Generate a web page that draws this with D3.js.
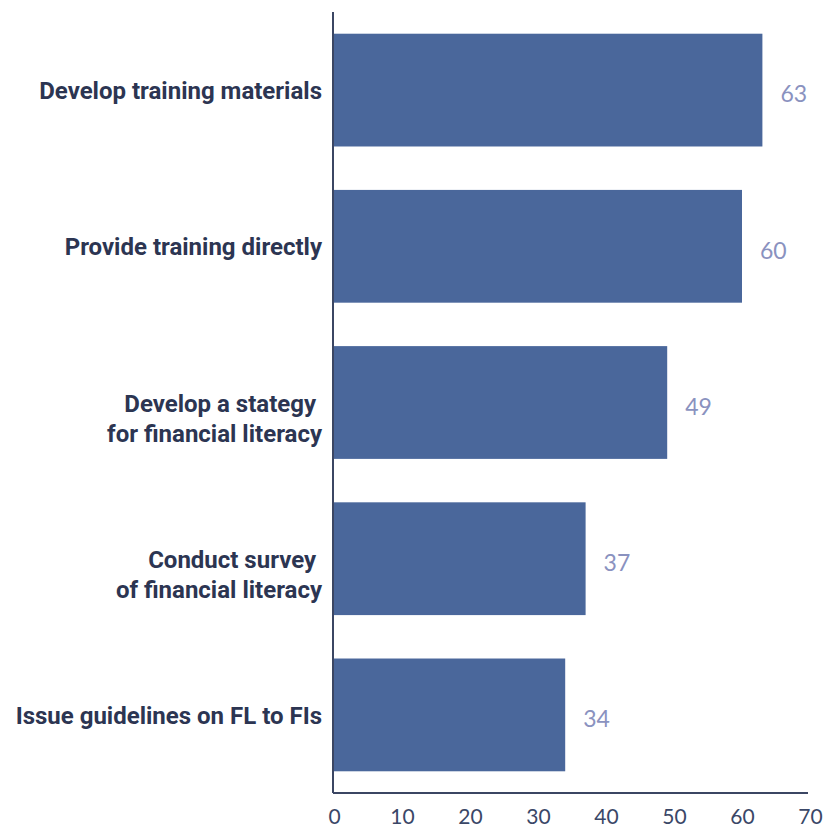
<!DOCTYPE html>
<html>
<head>
<meta charset="utf-8">
<script src="https://cdn.jsdelivr.net/npm/d3@7/dist/d3.min.js"></script>
<style>
  html, body { margin: 0; padding: 0; background: #fff; }
  svg { display: block; }
  .cat { white-space: pre; }
</style>
</head>
<body>
<svg id="chart" width="825" height="831"></svg>
<script>
// Activities, each label split into its printed lines
const categories = [
  ["Develop training materials"],
  ["Provide training directly"],
  ["Develop a stategy ", "for financial literacy"],
  ["Conduct survey ", "of financial literacy"],
  ["Issue guidelines on FL to FIs"]
];
const values = [63, 60, 49, 37, 34];
const xTicks = [0, 10, 20, 30, 40, 50, 60, 70];

const svg = d3.select("#chart");
const plotLeft = 334, plotRight = 810, plotTop = 12, plotBottom = 793;

const x = d3.scaleLinear().domain([0, 70]).range([plotLeft, plotRight]);
const y = d3.scaleBand()
  .domain(d3.range(categories.length))
  .range([plotTop, plotBottom])
  .paddingInner(0.278)
  .paddingOuter(0.139);

const barColor = "#4a679b";
const axisColor = "#3b4663";

// bars
svg.append("g").selectAll("rect")
  .data(values)
  .join("rect")
  .attr("x", x(0))
  .attr("y", (d, i) => y(i))
  .attr("width", d => x(d) - x(0))
  .attr("height", y.bandwidth())
  .attr("fill", barColor);

// value labels
svg.append("g").selectAll("text")
  .data(values)
  .join("text")
  .attr("x", d => x(d) + 18)
  .attr("y", (d, i) => y(i) + y.bandwidth() / 2 + 4)
  .attr("dy", "0.36em")
  .attr("font-family", "Lato, sans-serif")
  .attr("font-size", 23)
  .attr("fill", "#8a92bf")
  .text(d => d);

// category labels
const catG = svg.append("g")
  .attr("font-family", "Roboto, sans-serif")
  .attr("font-weight", 700)
  .attr("font-size", 24)
  .attr("fill", "#2c3552")
  .attr("text-anchor", "end");

categories.forEach((lines, i) => {
  const t = catG.append("text")
    .attr("class", "cat")
    .attr("x", 322)
    .attr("y", y(i) + y.bandwidth() / 2 + 1);
  lines.forEach((line, j) => {
    t.append("tspan")
      .attr("x", 322)
      .attr("dy", j === 0 ? "0.34em" : 30)
      .text(line);
  });
});

// x axis
const xAxis = d3.axisBottom(x)
  .tickValues(xTicks)
  .tickSize(0)
  .tickPadding(16);

const gx = svg.append("g")
  .attr("transform", `translate(0,${plotBottom})`)
  .call(xAxis);
gx.select(".domain")
  .attr("d", `M${plotLeft - 1},0H808`)
  .attr("stroke", axisColor)
  .attr("stroke-width", 2);
gx.selectAll("text")
  .attr("font-family", "Lato, sans-serif")
  .attr("font-size", 21)
  .attr("fill", "#3a4767");

// y axis line
svg.append("line")
  .attr("x1", plotLeft - 1).attr("x2", plotLeft - 1)
  .attr("y1", plotTop).attr("y2", plotBottom)
  .attr("stroke", axisColor)
  .attr("stroke-width", 2);
</script>
</body>
</html>
